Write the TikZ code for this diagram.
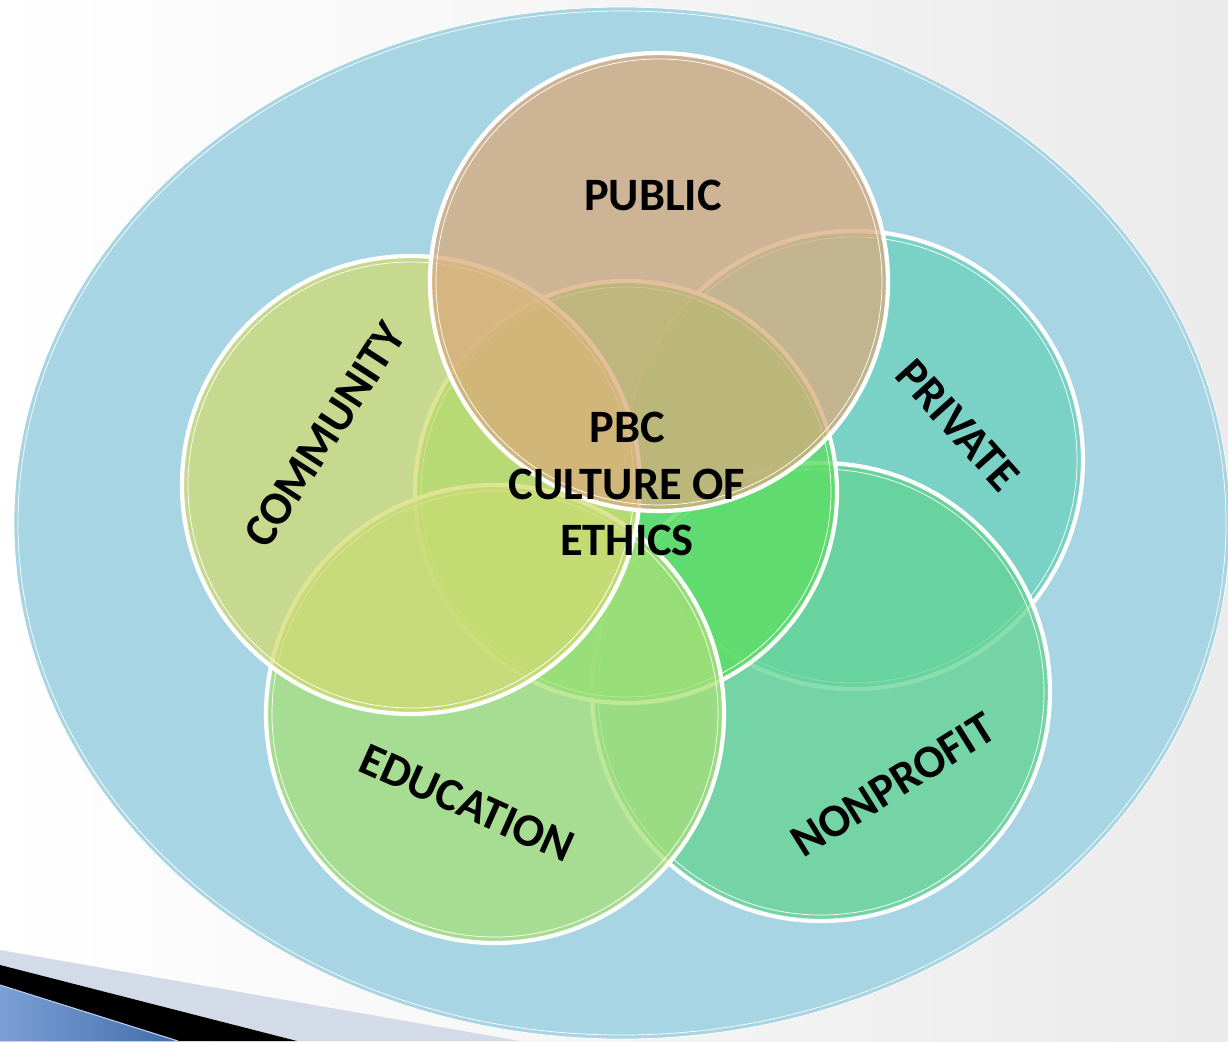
\documentclass[tikz,border=0pt]{standalone}
\usepackage{fontspec}
\setmainfont{Carlito}
\usetikzlibrary{calc}
\usetikzlibrary{positioning}

\definecolor{bgblue}{RGB}{167,213,227}
\definecolor{publiccol}{RGB}{218,170,124}
\definecolor{communitycol}{RGB}{211,218,115}
\definecolor{privatecol}{RGB}{107,210,190}
\definecolor{nonprofitcol}{RGB}{99,212,146}
\definecolor{educationcol}{RGB}{168,224,120}
\definecolor{pbccol}{RGB}{93,221,99}
\definecolor{bandcol}{RGB}{211,218,232}
\definecolor{stripecol}{RGB}{78,128,200}

\tikzset{
  ring/.style={draw=white, line width=3pt},
  inring/.style={draw=white, line width=0.5pt},
  lbl/.style={font=\fontsize{33}{40}\selectfont\bfseries, align=center, inner sep=0pt},
}

\begin{document}
\begin{tikzpicture}[x=0.025cm, y=-0.025cm]
    \useasboundingbox (0,0) rectangle (1228,1041);
    \shade[left color=white, right color=black!8] (0,0) rectangle (1228,1041);

    \coordinate (bigc) at (622,523);
    \coordinate (public) at (659,282);
    \coordinate (community) at (411,485);
    \coordinate (private) at (854,460);
    \coordinate (nonprofit) at (821,692);
    \coordinate (education) at (495,714);
    \coordinate (pbc) at (626,492);

    % slide corner
    \fill[bandcol] (0,950) -- (520,1041) -- (0,1041) -- cycle;
    \fill[black] (0,965) -- (297,1041) -- (0,1041) -- cycle;
    \shade[left color=stripecol!75!white, right color=stripecol!85!black] (0,985) -- (178,1041) -- (0,1041) -- cycle;
    \draw[stripecol!40!white, line width=0.8pt] (0,985) -- (178,1041);

    % outer ellipse
    \draw[inring, fill=bgblue] (bigc) ellipse[x radius=608, y radius=516];
    \draw[inring] (bigc) ellipse[x radius=604, y radius=512];

    % circles, back to front
    \fill[privatecol, fill opacity=0.75] (private) circle[radius=229];
    \draw[ring] (private) circle[radius=229];
    \draw[inring] (private) circle[radius=223];

    \fill[nonprofitcol, fill opacity=0.75] (nonprofit) circle[radius=229];
    \draw[ring] (nonprofit) circle[radius=229];
    \draw[inring] (nonprofit) circle[radius=223];

    \fill[pbccol, fill opacity=0.8] (pbc) circle[radius=211];
    \draw[ring] (pbc) circle[radius=211];
    \draw[inring] (pbc) circle[radius=205];

    \fill[educationcol, fill opacity=0.75] (education) circle[radius=229];
    \draw[ring] (education) circle[radius=229];
    \draw[inring] (education) circle[radius=223];

    \fill[communitycol, fill opacity=0.75] (community) circle[radius=229];
    \draw[ring] (community) circle[radius=229];
    \draw[inring] (community) circle[radius=223];

    \fill[publiccol, fill opacity=0.75] (public) circle[radius=229];
    \draw[ring] (public) circle[radius=229];
    \draw[inring] (public) circle[radius=223];

    % labels
    \node[lbl] (publiclbl) at (653,195) {PUBLIC};
    \node[lbl, rotate=57] (communitylbl) at (325,435) {COMMUNITY};
    \node[lbl, rotate=-48] (privatelbl) at (958,425) {PRIVATE};
    \node[lbl, rotate=-24] (educationlbl) at (467,803) {EDUCATION};
    \node[lbl, rotate=32] (nonprofitlbl) at (893,785) {NONPROFIT};
    \node[lbl] (pbclbl) at (627,484) {PBC\\CULTURE OF\\ETHICS};
\end{tikzpicture}
\end{document}
